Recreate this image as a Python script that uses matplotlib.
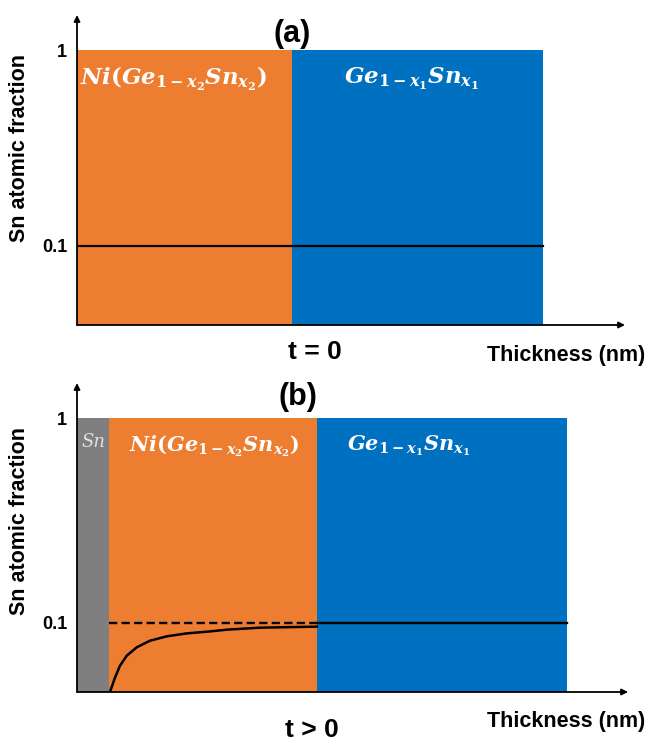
import matplotlib
matplotlib.use("Agg")
import matplotlib.pyplot as plt

# ===============================
# data (schematic)
# ===============================
edges_a = [0, 39.2, 85.0]            # Ni(GeSn) | GeSn
colors_a = ["#ED7D31", "#0070C0"]
edges_b = [0, 5.8, 43.6, 88.9]       # Sn | Ni(GeSn) | GeSn
colors_b = ["#7F7F7F", "#ED7D31", "#0070C0"]
layer_top = 1.0
sn_level = 0.1
y_ticks = [1, 0.1]
y_tick_labels = ["1", "0.1"]

# Sn profile inside Ni(GeSn) at t > 0
curve_x = [5.99, 6.90, 7.80, 9.02, 10.83, 13.25, 16.28, 19.91, 24.14, 27.2, 33.2, 43.6]
curve_y = [0.0459, 0.0539, 0.0616, 0.0689, 0.0757, 0.0816, 0.0857, 0.0886, 0.0906,
           0.0924, 0.0945, 0.0956]

label_nige = r"$Ni(Ge_{1-x_2}Sn_{x_2})$"
label_gesn = r"$Ge_{1-x_1}Sn_{x_1}$"

plt.rcParams["font.family"] = ["Liberation Sans", "DejaVu Sans"]
plt.rcParams["mathtext.fontset"] = "custom"
plt.rcParams["mathtext.it"] = "DejaVu Serif:italic:bold"
plt.rcParams["mathtext.rm"] = "DejaVu Serif:bold"
plt.rcParams["mathtext.bf"] = "DejaVu Serif:bold"

W, H = 645, 742
fig = plt.figure(figsize=(W / 100, H / 100), dpi=100)
ax1 = fig.add_axes([0.1194, 0.5620, 0.8496, 0.4178])
ax2 = fig.add_axes([0.1194, 0.0674, 0.8543, 0.4164])


def ftext(x, y, s, **kw):
    # place text by pixel position (from top-left)
    return fig.text(x / W, 1 - y / H, s, **kw)


def setup(ax, ybot, ytop):
    ax.set_yscale("log")
    ax.set_xlim(0, 100)
    ax.set_ylim(ybot, ytop)
    for s in ax.spines.values():
        s.set_visible(False)
    ax.set_xticks([])
    ax.set_yticks(y_ticks)
    ax.set_yticklabels(y_tick_labels, fontsize=13, fontweight="bold")
    ax.yaxis.set_minor_locator(matplotlib.ticker.NullLocator())
    ax.tick_params(axis="y", length=0, pad=7)
    arrow = dict(arrowstyle="-|>", color="black", lw=1.3, mutation_scale=9,
                 shrinkA=0, shrinkB=0)
    ax.annotate("", xy=(1, 0), xytext=(0, 0), xycoords="axes fraction",
                arrowprops=arrow, annotation_clip=False)
    ax.annotate("", xy=(0, 1), xytext=(0, 0), xycoords="axes fraction",
                arrowprops=arrow, annotation_clip=False)


# ===============================
# (a) t = 0
# ===============================
ybot_a = 0.0395
setup(ax1, ybot_a, 1.51)
for i, c in enumerate(colors_a):
    ax1.bar(edges_a[i], layer_top - ybot_a, width=edges_a[i + 1] - edges_a[i],
            bottom=ybot_a, align="edge", color=c, linewidth=0, zorder=1)
ax1.plot([edges_a[0], edges_a[-1]], [sn_level, sn_level], color="black", lw=1.6, zorder=3)

ftext(173, 79, label_nige, color="white", fontsize=16.5, ha="center", va="center")
ftext(412, 79, label_gesn, color="white", fontsize=16.5, ha="center", va="center")

# ===============================
# (b) t > 0
# ===============================
ybot_b = 0.0458
setup(ax2, ybot_b, 1.485)
for i, c in enumerate(colors_b):
    ax2.bar(edges_b[i], layer_top - ybot_b, width=edges_b[i + 1] - edges_b[i],
            bottom=ybot_b, align="edge", color=c, linewidth=0, zorder=1)
ax2.plot([edges_b[1], edges_b[2]], [sn_level, sn_level], color="black", lw=1.7,
         linestyle=(0, (3.5, 1.8)), zorder=3)
ax2.plot([edges_b[2], edges_b[3]], [sn_level, sn_level], color="black", lw=1.7, zorder=3)
ax2.plot(curve_x, curve_y, color="black", lw=1.8, zorder=3, solid_capstyle="round")

ftext(93, 442, "Sn", color="#E0E0E0", fontsize=13, style="italic",
      family="DejaVu Serif", ha="center", va="center")
ftext(214, 446, label_nige, color="white", fontsize=15, ha="center", va="center")
ftext(409, 446, label_gesn, color="white", fontsize=15, ha="center", va="center")

# ===============================
# titles / labels
# ===============================
ftext(292, 34, "(a)", fontsize=22, fontweight="bold", ha="center", va="center")
ftext(298, 397, "(b)", fontsize=22, fontweight="bold", ha="center", va="center")
ftext(315, 352, "t = 0", fontsize=19, fontweight="bold", ha="center", va="center")
ftext(312, 730, "t > 0", fontsize=19, fontweight="bold", ha="center", va="center")
for yy in (356, 722):
    ftext(487, yy, "Thickness (nm)", fontsize=15.5, fontweight="bold",
          ha="left", va="center")
for yy in (148, 521):
    ftext(20, yy, "Sn atomic fraction", fontsize=15.5, fontweight="bold",
          rotation=90, ha="center", va="center")

fig.savefig("out.png", dpi=100)
